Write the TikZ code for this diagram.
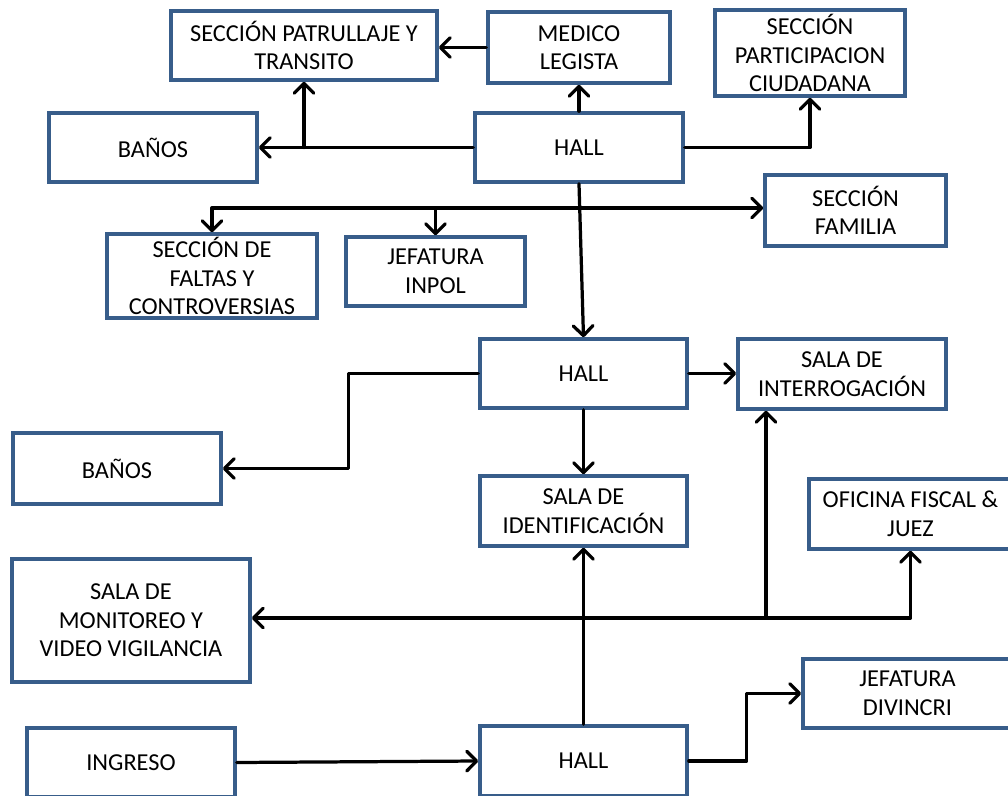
\documentclass[tikz,border=0pt]{standalone}
\usepackage{fontspec}
\setmainfont{Carlito}
\usetikzlibrary{arrows.meta}
\definecolor{roomblue}{RGB}{56,93,138}

\begin{document}
\begin{tikzpicture}[x=0.025cm,y=-0.025cm,
  room/.style={draw=roomblue,line width=2.5pt,align=center,inner sep=0pt,
    font=\fontsize{17.3}{20.3}\selectfont},
  flow/.style={line width=2.3pt,line cap=round,line join=round,
    -{Straight Barb[length=7pt,width=14pt,line cap=round,line join=round]}}]
  \useasboundingbox (0,0) rectangle (1008,796);

  \node[room,minimum width=6.65cm,minimum height=1.725cm] (patrullaje) at (304,45.5) {SECCIÓN PATRULLAJE Y\\TRANSITO};
  \node[room,minimum width=4.55cm,minimum height=1.775cm] (medico) at (579,47.5) {MEDICO\\LEGISTA};
  \node[room,minimum width=4.75cm,minimum height=2.15cm] (participacion) at (810,53) {SECCIÓN\\PARTICIPACION\\CIUDADANA};
  \node[room,minimum width=5.2cm,minimum height=1.725cm] (banosA) at (153,147.5) {BAÑOS};
  \node[room,minimum width=5.2cm,minimum height=1.725cm] (hallA) at (579,147.5) {HALL};
  \node[room,minimum width=4.525cm,minimum height=1.775cm] (familia) at (855.5,210.5) {SECCIÓN\\FAMILIA};
  \node[room,minimum width=5.25cm,minimum height=2.1cm] (faltas) at (212,276) {SECCIÓN DE\\FALTAS Y\\CONTROVERSIAS};
  \node[room,minimum width=4.475cm,minimum height=1.725cm] (inpol) at (435.5,271.5) {JEFATURA\\INPOL};

  \node[room,minimum width=5.175cm,minimum height=1.725cm] (hallB) at (583.5,373.5) {HALL};
  \node[room,minimum width=5.2cm,minimum height=1.75cm] (interrogacion) at (842,374) {SALA DE\\INTERROGACIÓN};
  \node[room,minimum width=5.2cm,minimum height=1.775cm] (banosB) at (117,468.5) {BAÑOS};
  \node[room,minimum width=5.175cm,minimum height=1.75cm] (identificacion) at (583.5,511) {SALA DE\\IDENTIFICACIÓN};
  \node[room,minimum width=5.075cm,minimum height=1.75cm] (fiscal) at (910.5,514) {OFICINA FISCAL \&\\JUEZ};
  \node[room,minimum width=5.95cm,minimum height=3.075cm] (monitoreo) at (131,620.5) {SALA DE\\MONITOREO Y\\VIDEO VIGILANCIA};

  \node[room,minimum width=5.225cm,minimum height=1.725cm] (divincri) at (907.5,693.5) {JEFATURA\\DIVINCRI};
  \node[room,minimum width=5.2cm,minimum height=1.725cm] (ingreso) at (131,762.5) {INGRESO};
  \node[room,minimum width=5.175cm,minimum height=1.75cm] (hallC) at (583.5,761) {HALL};

  \coordinate (jA) at (580,208);
  \coordinate (jB) at (583.5,618);
  \coordinate (jC) at (766,618);

  \draw[flow] (hallA.west) -- (banosA.east);
  \draw[flow] (patrullaje.south |- hallA.west) -- (patrullaje.south);
  \draw[flow] (medico.west) -- (medico.west -| patrullaje.east);
  \draw[flow] (hallA.north) -- (medico.south);
  \draw[flow] (hallA.east) -| (participacion.south);
  \draw[flow] (hallA.south) -- (hallB.north);
  \draw[flow] (jA) -| (faltas.north);
  \draw[flow] (jA) -| (inpol.north);
  \draw[flow] (jA) -- (jA -| familia.west);

  \draw[flow] (hallB.east) -- (hallB.east -| interrogacion.west);
  \draw[flow] (hallB.west) -- ++(-130,0) |- (banosB.east);
  \draw[flow] (hallB.south) -- (identificacion.north);

  \draw[flow] (hallC.north) -- (identificacion.south);
  \draw[flow] (jB) -- (jB -| monitoreo.east);
  \draw[flow] (jB) -| (fiscal.south);
  \draw[flow] (jC) -- (jC |- interrogacion.south);
  \draw[flow] (ingreso.east) -- (hallC.west);
  \draw[flow] (hallC.east) -- ++(58,0) |- (divincri.west);
\end{tikzpicture}
\end{document}
